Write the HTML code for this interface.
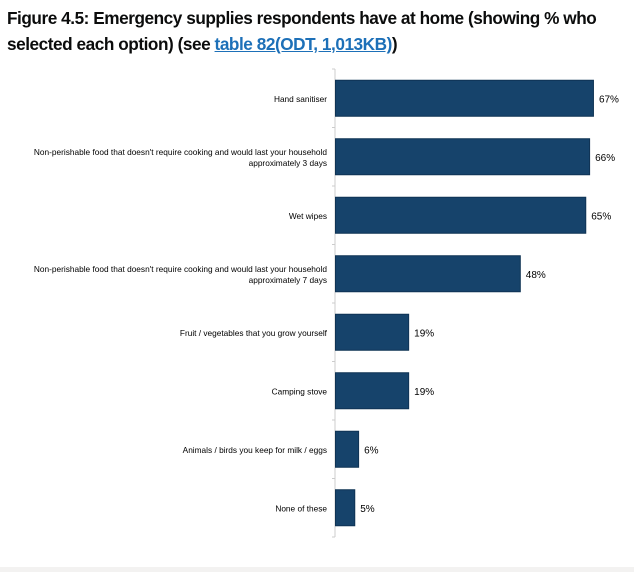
<!DOCTYPE html>
<html><head><meta charset="utf-8"><style>
body{margin:0;width:634px;height:572px;background:#fff;overflow:hidden;font-family:"Liberation Sans",sans-serif;position:relative}
h1{position:absolute;left:7px;top:5px;margin:0;font-size:17.2px;line-height:26px;font-weight:bold;color:#0b0c0c;letter-spacing:-0.45px;width:627px;white-space:nowrap}
h1 a{color:#1d70b8;text-decoration:underline}
#foot{position:absolute;left:0;top:567px;width:634px;height:5px;background:#f3f2f1}
</style></head><body>
<h1>Figure 4.5: Emergency supplies respondents have at home (showing % who<br>selected each option) (see <a>table 82(ODT, 1,013KB)</a>)</h1>
<svg id="chart" width="634" height="572" style="position:absolute;left:0;top:0"></svg>
<div id="foot"></div>
<script>
const categories=[["Hand sanitiser"],["Non-perishable food that doesn't require cooking and would last your household","approximately 3 days"],["Wet wipes"],["Non-perishable food that doesn't require cooking and would last your household","approximately 7 days"],["Fruit / vegetables that you grow yourself"],["Camping stove"],["Animals / birds you keep for milk / eggs"],["None of these"]];
const values=[67,66,65,48,19,19,6,5];
const valueLabels=["67%","66%","65%","48%","19%","19%","6%","5%"];
const svg=document.getElementById('chart');
const NS='http://www.w3.org/2000/svg';
const x0=335,pxPer=3.85,yTop=69,yBot=537;
const band=(yBot-yTop)/categories.length,bh=36;
const xs=v=>x0+v*pxPer;
const yc=i=>yTop+band*(i+0.5);
function mk(t,a){const e=document.createElementNS(NS,t);for(const k in a)e.setAttribute(k,a[k]);svg.appendChild(e);return e;}
const ax=mk('line',{x1:x0,x2:x0,y1:yTop,y2:yBot,stroke:'#ccc','stroke-width':1});


for(let i=0;i<=categories.length;i++){const t=mk('line',{x1:x0-3,x2:x0,y1:yTop+band*i,y2:yTop+band*i,stroke:'#ccc'});

}
categories.forEach((c,i)=>{
const r=mk('rect',{x:x0+0.5,y:yc(i)-bh/2,width:xs(values[i])-x0,height:bh,fill:'#16436b',stroke:'#0f3354','stroke-width':1});


const lines=c;
lines.forEach((l,j)=>{const t=mk('text',{x:x0-8,y:yc(i)+3.5+(j-(lines.length-1)/2)*11,'text-anchor':'end','font-size':'8.3px',fill:'#000'});t.textContent=l;

});
const v=mk('text',{x:xs(values[i])+6,y:yc(i)+4,'font-size':'10px',fill:'#000'});v.textContent=valueLabels[i];


});
</script>
</body></html>
